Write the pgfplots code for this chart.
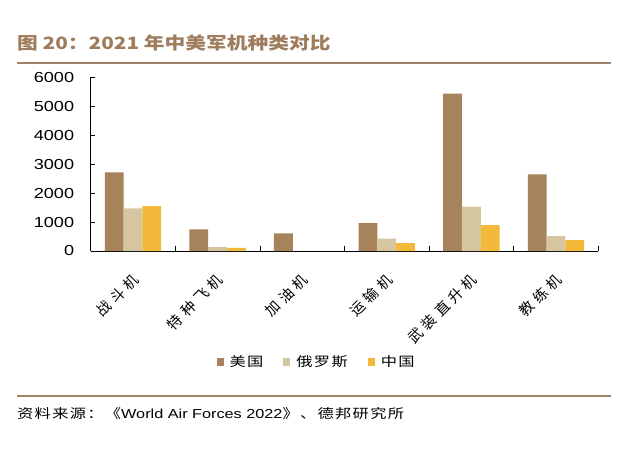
\documentclass[border=0pt]{standalone}
\usepackage{pgfplots}
\pgfplotsset{compat=1.18}
\usepackage{fontspec}
\usepackage{graphicx}
\setmainfont{Liberation Sans}
\newfontfamily\cjk{Noto Sans CJK SC}
\newfontfamily\cjkls[LetterSpace=30]{Noto Sans CJK SC}
\newfontfamily\cjkss[LetterSpace=8]{Noto Sans CJK SC}
\definecolor{usc}{RGB}{166,131,90}
\definecolor{ruc}{RGB}{214,198,160}
\definecolor{cnc}{RGB}{242,185,58}
\definecolor{titc}{RGB}{158,124,92}
\definecolor{rulec}{RGB}{160,132,104}
\newcommand{\sx}[1]{\scalebox{1.25}[1]{#1}}
\begin{document}
\begin{tikzpicture}[x=1pt,y=1pt]
\path[use as bounding box] (0,0) rectangle (630,448);
\node[anchor=west, inner sep=0pt, text=titc] at (17,405) {\scalebox{1.22}[1]{\fontsize{17}{20}\selectfont\cjk\bfseries 图 20：2021 年中美军机种类对比}};
\draw[rulec, line width=2.7pt] (17,385) -- (611,385);
\begin{axis}[
  at={(90.7pt,197pt)}, anchor=south west,
  scale only axis, width=507.6pt, height=173.7pt,
  ybar=0pt, bar width=18.8pt,
  xmin=-0.5, xmax=5.5, ymin=0, ymax=6000,
  axis x line*=bottom, axis y line*=left,
  axis line style={-, black, line width=0.8pt},
  tick align=inside,
  ytick={0,1000,2000,3000,4000,5000,6000},
  yticklabels={\sx{0},\sx{1000},\sx{2000},\sx{3000},\sx{4000},\sx{5000},\sx{6000}},
  yticklabel style={font=\fontsize{14.5}{16}\selectfont, xshift=-13pt},
  major tick length=4pt, minor tick length=5pt,
  tick style={black, line width=0.6pt},
  xtick={0,1,2,3,4,5},
  xticklabels={战斗机,特种飞机,加油机,运输机,武装直升机,教练机},
  xticklabel style={xshift=-2pt, yshift=-21pt, rotate=45, anchor=north east, inner sep=0pt, font=\fontsize{14.5}{16}\selectfont\cjkls},
  major x tick style={draw=none},
  minor xtick={-0.5,0.5,1.5,2.5,3.5,4.5,5.5},
  legend columns=-1,
  legend style={at={(0.445,-0.639)}, anchor=center, draw=none, fill=none,
    font=\fontsize{13}{16}\selectfont\cjkss,
    /tikz/every odd column/.append style={column sep=4pt},
    /tikz/every even column/.append style={column sep=18pt}},
  legend image code/.code={\fill[#1] (0pt,-3.7pt) rectangle (7pt,3.7pt);},
  clip=false,
]
\addplot[fill=usc, draw=none] coordinates {(0,2718) (1,750) (2,610) (3,967) (4,5434) (5,2649)};
\addplot[fill=ruc, draw=none] coordinates {(0,1475) (1,130) (3,425) (4,1531) (5,518)};
\addplot[fill=cnc, draw=none] coordinates {(0,1554) (1,110) (3,276) (4,898) (5,380)};
\legend{\sx{美国},\sx{俄罗斯},\sx{中国}}
\end{axis}
\draw[rulec, line width=2.7pt] (17,52) -- (611,52);
\node[anchor=west, inner sep=0pt] at (17,34) {\sx{\fontsize{13}{16}\selectfont{\cjkss 资料来源：《}World Air Forces 2022{\cjkss 》、德邦研究所}}};
\end{tikzpicture}
\end{document}
